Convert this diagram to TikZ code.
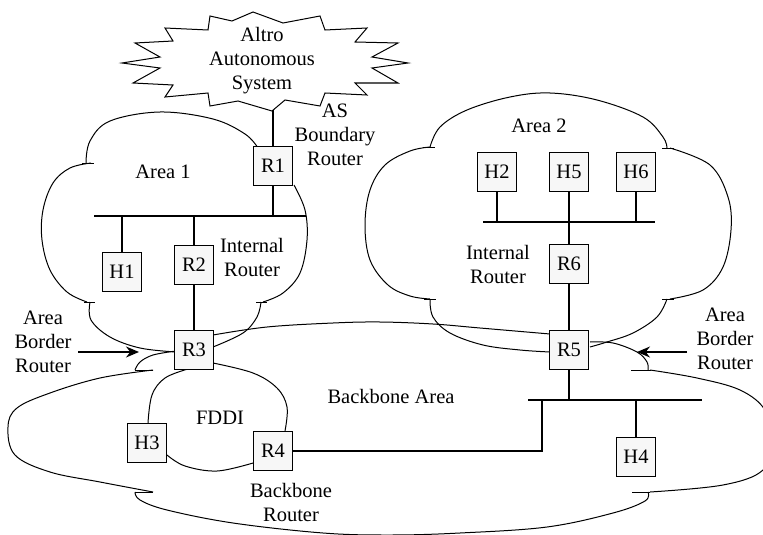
\documentclass[tikz,border=0pt]{standalone}
\usepackage{fontspec}
\setmainfont{Liberation Serif}
\usetikzlibrary{arrows.meta}
\begin{document}
\begin{tikzpicture}[x=1pt,y=-1pt,
  box/.style={draw, line width=1.2pt, fill=black!3, minimum width=39pt, minimum height=39pt, inner sep=0pt, font=\fontsize{20.5}{24}\selectfont},
  lbl/.style={align=center, inner sep=0pt, font=\fontsize{20.5}{24}\selectfont},
  link/.style={line width=1.3pt},
  outline/.style={line width=1pt},
  arr/.style={line width=1.2pt, -{Stealth[length=13pt,width=11pt]}}
]
\useasboundingbox (0,0) rectangle (763,535);
\clip (0,0) rectangle (763,535);

% Altro autonomous system (star)
\draw[outline] (210,16) -- (232,21) -- (253,12) -- (283,23) -- (320,16) -- (325,30)
  -- (367,28) -- (355,42) -- (398,43) -- (372,57) -- (408,63) -- (372,68) -- (398,83)
  -- (355,83) -- (367,95) -- (325,93) -- (320,106) -- (285,100) -- (272,111)
  -- (238,101) -- (210,106) -- (208,93) -- (165,97) -- (173,85) -- (133,83)
  -- (160,68) -- (122,63) -- (160,57) -- (135,43) -- (173,41) -- (165,28)
  -- (208,30) -- cycle;

% Area 1 cloud
\draw[outline] plot[smooth,tension=0.6] coordinates {(86,163)(90,141)(110,121)(160,112)(213,119)(245,134)(258,148)};
\draw[outline] (82,163) -- (94,163);
\draw[outline] plot[smooth,tension=0.6] coordinates {(91,163)(70,168)(53,183)(43,210)(42,240)(50,270)(67,292)(87,302)};
\draw[outline] (84,302) -- (95,302);
\draw[outline] plot[smooth,tension=0.6] coordinates {(90,302)(91,320)(110,337)(140,348)(176,352)};
\draw[outline] plot[smooth,tension=0.6] coordinates {(213,347)(243,333)(257,317)(261,302)};
\draw[outline] (256,302) -- (267,302);
\draw[outline] plot[smooth,tension=0.6] coordinates {(263,302)(283,293)(300,273)(307,240)(305,210)(294,185)};

% Area 2 cloud
\draw[outline] plot[smooth,tension=0.6] coordinates {(430,147)(440,127)(467,110)(510,97)(550,93)(597,100)(643,117)(663,137)(667,148)};
\draw[outline] (423,147) -- (435,147);
\draw[outline] (662,148) -- (674,148);
\draw[outline] plot[smooth,tension=0.6] coordinates {(670,148)(710,165)(728,197)(731,230)(723,267)(703,290)(670,299)};
\draw[outline] (662,299) -- (674,299);
\draw[outline] plot[smooth,tension=0.6] coordinates {(667,299)(657,317)(633,333)(607,342)(590,347)};
\draw[outline] plot[smooth,tension=0.6] coordinates {(430,299)(433,317)(450,333)(483,345)(520,350)(550,352)};
\draw[outline] (424,299) -- (436,299);
\draw[outline] plot[smooth,tension=0.6] coordinates {(430,147)(410,151)(385,165)(370,190)(365,225)(370,260)(388,285)(410,296)(430,299)};

% Backbone area
\draw[outline] plot[smooth,tension=0.6] coordinates {(213,335)(267,327)(333,323)(380,322)(433,324)(480,328)(550,334)};
\draw[outline] plot[smooth,tension=0.6] coordinates {(590,342)(613,343)(637,352)(647,362)(648,370)};
\draw[outline] (631,370) -- (651,370);
\draw[outline] plot[smooth,tension=0.6] coordinates {(650,370)(697,378)(740,390)(765,410)(772,440)(763,470)(723,485)(650,492)};
\draw[outline] (632,492) -- (650,492);
\draw[outline] plot[smooth,tension=0.6] coordinates {(648,492)(645,501)(613,513)(547,527)(460,533)(390,535)(323,533)(233,523)(167,510)(140,500)(135,492)};
\draw[outline] (135,492) -- (153,492);
\draw[outline] plot[smooth,tension=0.6] coordinates {(153,492)(100,482)(50,472)(15,455)(8,427)(17,408)(50,393)(100,378)(153,370)};
\draw[outline] (135,370) -- (153,370);
\draw[outline] plot[smooth,tension=0.6] coordinates {(135,370)(140,362)(153,355)(176,351)};

% FDDI ring
\draw[outline] plot[smooth,tension=0.6] coordinates {(188,369)(165,378)(152,395)(148,423)};
\draw[outline] plot[smooth,tension=0.6] coordinates {(167,455)(185,466)(217,471)(253,463)};
\draw[outline] plot[smooth,tension=0.6] coordinates {(285,431)(287,407)(277,388)(253,373)(213,363)};

% boxes
\node[box] (R1) at (273,166) {R1};
\node[box] (H1) at (122,272) {H1};
\node[box] (R2) at (194,265) {R2};
\node[box] (R3) at (194,350) {R3};
\node[box] (H2) at (497,172) {H2};
\node[box] (H5) at (569,172) {H5};
\node[box] (H6) at (636,172) {H6};
\node[box] (R6) at (569,264) {R6};
\node[box] (R5) at (569,350) {R5};
\node[box] (H3) at (147,443) {H3};
\node[box] (R4) at (273,451) {R4};
\node[box] (H4) at (636,457) {H4};

% buses and links
\coordinate (asb) at (273,110);
\coordinate (b1l) at (94,216);
\coordinate (b1r) at (306,216);
\coordinate (b2l) at (483,222);
\coordinate (b2r) at (655,222);
\coordinate (b3l) at (528,400);
\coordinate (b3r) at (702,400);
\coordinate (b3j) at (542,400);

\draw[link] (R1.north) -- (asb);
\draw[link] (b1l) -- (b1r);
\draw[link] (R1.south) -- (R1.south |- b1l);
\draw[link] (H1.north) -- (H1.north |- b1l);
\draw[link] (R2.north) -- (R2.north |- b1l);
\draw[link] (R2.south) -- (R3.north);

\draw[link] (b2l) -- (b2r);
\draw[link] (H2.south) -- (H2.south |- b2l);
\draw[link] (H5.south) -- (H5.south |- b2l);
\draw[link] (H6.south) -- (H6.south |- b2l);
\draw[link] (R6.north) -- (R6.north |- b2l);
\draw[link] (R6.south) -- (R5.north);

\draw[link] (b3l) -- (b3r);
\draw[link] (R5.south) -- (R5.south |- b3l);
\draw[link] (H4.north) -- (H4.north |- b3l);
\draw[link] (R4.east) -| (b3j);

% arrows
\coordinate (al0) at (78,352);
\coordinate (al1) at (139,352);
\coordinate (ar0) at (687,352);
\coordinate (ar1) at (637,352);
\draw[arr] (al0) -- (al1);
\draw[arr] (ar0) -- (ar1);

% labels
\node[lbl] (tas) at (262,61) {Altro\\Autonomous\\System};
\node[lbl] (tasb) at (335,135) {AS\\Boundary\\Router};
\node[lbl] (ta1) at (163,172) {Area 1};
\node[lbl] (ta2) at (539,126) {Area 2};
\node[lbl] (tir1) at (252,257) {Internal\\Router};
\node[lbl] (tir2) at (498,264) {Internal\\Router};
\node[lbl] (tabl) at (43,342) {Area\\Border\\Router};
\node[lbl] (tabr) at (725,339) {Area\\Border\\Router};
\node[lbl] (tbb) at (391,396) {Backbone Area};
\node[lbl] (tfd) at (220,418) {FDDI};
\node[lbl] (tbr) at (291,502) {Backbone\\Router};
\end{tikzpicture}
\end{document}
